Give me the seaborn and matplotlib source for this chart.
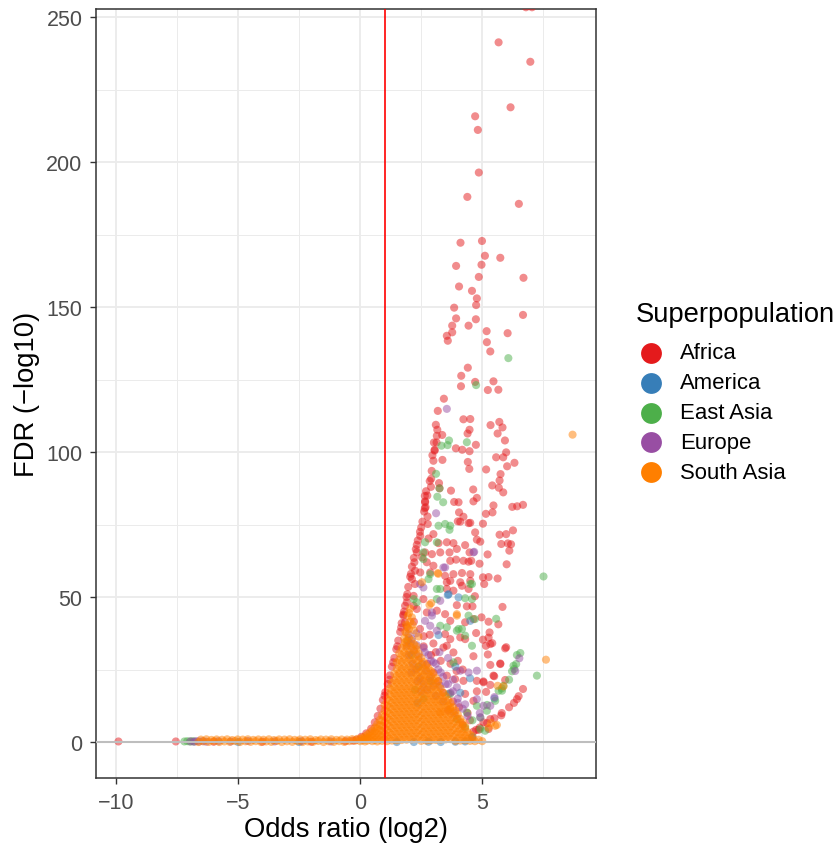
import matplotlib
matplotlib.use("Agg")
import matplotlib.pyplot as plt
from matplotlib.lines import Line2D
import pandas as pd
import seaborn as sns

# ---------------- data ----------------
populations = ["Africa", "America", "East Asia", "Europe", "South Asia"]
palette = ["#E41A1C", "#377EB8", "#4DAF4A", "#984EA3", "#FF7F00"]
x_ticks = [-10, -5, 0, 5]
y_ticks = [0, 50, 100, 150, 200, 250]
threshold_x = 1

africa = [
    (-9.9, 0.2), (-7.55, 0.2), (-6.0, 0.1), (-4.0, 0.1), (-2.0, 0.1), (-0.6, 0.3), (-0.3, 0.5),
    (-0.15, 0.8), (0.05, 1.8), (0.25, 3.0), (0.45, 4.6), (0.6, 6.8), (0.72, 9.0), (0.83, 11.5),
    (0.93, 14.5), (1.03, 17.2), (1.13, 20), (1.22, 23), (1.3, 26), (1.4, 29), (1.48, 32),
    (1.56, 35), (1.64, 38), (1.7, 41), (1.77, 44), (1.84, 47), (1.9, 50), (1.97, 53.5),
    (2.05, 57), (2.12, 60.5), (2.2, 63.5), (2.28, 66.5), (2.36, 69.5), (2.45, 72.5), (2.55, 76),
    (2.62, 79.5), (2.66, 83), (2.7, 86.5), (2.85, 90), (2.93, 93.5), (3.0, 97), (3.05, 100.5),
    (1.0, 16), (1.2, 21.5), (1.35, 27.5), (1.52, 33), (1.68, 39.5), (1.8, 45), (1.93, 51),
    (2.08, 58), (2.22, 62), (2.32, 68), (2.5, 74), (2.68, 81), (2.75, 85), (2.9, 88),
    (6.79, 253.4), (7.04, 253.4), (5.67, 241.3), (6.97, 234.6), (6.16, 218.9), (4.71, 215.8),
    (4.82, 211.1), (4.86, 196.4), (4.39, 188.0), (6.50, 185.6), (4.11, 172.2), (4.99, 172.8),
    (5.11, 167.7), (5.74, 167.0), (3.93, 164.2), (4.97, 164.6), (4.86, 160.4), (6.69, 160.1),
    (4.05, 157.1), (4.58, 155.6), (4.78, 153.0), (4.75, 150.7), (3.85, 149.8), (3.93, 146.1),
    (4.74, 145.8), (4.44, 143.6), (3.77, 143.6), (6.67, 147.3), (3.77, 141.3), (3.55, 140.1),
    (3.59, 138.4), (5.18, 141.7), (6.04, 141.0), (5.19, 137.9), (5.33, 134.7), (4.41, 129.1),
    (4.14, 126.3), (4.13, 122.7), (4.71, 124.2), (5.46, 124.4), (5.23, 121.4), (5.66, 121.5),
    (3.43, 118.4), (3.18, 114.2), (4.23, 111.3), (4.51, 111.4), (3.10, 109.4), (5.34, 109.3),
    (5.70, 110.4), (5.83, 108.5), (4.48, 107.7), (4.40, 106.4), (3.16, 107.7), (3.14, 105.6),
    (3.36, 105.9), (5.63, 106.4), (5.93, 104.0), (3.02, 103.3), (3.13, 103.3), (4.74, 102.5),
    (3.92, 101.3), (4.18, 100.8), (4.48, 100.3), (3.05, 100.8), (2.96, 98.9), (3.37, 97.3),
    (5.98, 99.9), (5.57, 98.2), (5.86, 98.2), (6.32, 96.3), (6.02, 95.1), (4.41, 96.6),
    (4.47, 94.2), (5.16, 94.0), (2.91, 90.8), (3.23, 89.3), (3.25, 87.5), (3.72, 86.7),
    (5.75, 92.4), (5.71, 90.2), (5.41, 88.5), (5.68, 87.7), (5.86, 86.1), (4.63, 87.1),
    (2.65, 84.9), (2.66, 82.7), (2.65, 80.6), (3.85, 82.8), (4.03, 82.7), (4.78, 84.2),
    (4.64, 83.0), (5.46, 81.6), (6.23, 81.1), (6.43, 81.3), (6.67, 81.8), (2.76, 77.8),
    (4.05, 79.2), (4.23, 77.7), (5.15, 78.7), (5.42, 79.2), (4.00, 76.1), (4.51, 75.6),
    (5.03, 75.3), (4.78, 69.8), (4.92, 69.1), (5.71, 71.5), (5.98, 71.7), (6.26, 73.0),
    (5.78, 68.3), (6.05, 68.5), (6.18, 68.2), (6.11, 66.0), (5.22, 64.7), (6.0, 61.3),
    (4.89, 61.5), (4.55, 62.5), (5.03, 56.8), (5.26, 56.9), (5.63, 56.4), (5.08, 54.5),
    (4.70, 50.3), (5.83, 46.6), (4.60, 46.8), (4.97, 43.0), (5.26, 41.5), (5.66, 40.6),
    (4.75, 37.6), (5.30, 37.8), (5.26, 36.0), (5.03, 35.3), (5.41, 34.1), (5.98, 32.7),
    (5.15, 33.2), (5.23, 30.2), (5.33, 26.6), (5.74, 27.1), (5.49, 22.7), (5.05, 20.9),
    (4.78, 21.1), (5.94, 21.4), (5.33, 19.7), (5.16, 17.3), (4.78, 17.5), (6.67, 18.3),
    (6.42, 14.8), (6.49, 15.8), (5.78, 9.2), (4.75, 4.2), (5.26, 4.5), (4.64, 3.6), (4.85, 4.2),
    (2.77, 75.2), (4.10, 76.0), (4.44, 75.5), (4.71, 72.3), (2.46, 71.1), (2.80, 70.2),
    (3.0, 71.7), (3.21, 68.6), (3.55, 68.9), (3.82, 68.6), (3.96, 66.6), (4.30, 67.9),
    (4.48, 65.4), (2.32, 65.4), (2.66, 65.4), (2.94, 64.8), (3.28, 65.4), (3.66, 65.4),
    (2.53, 63.7), (2.73, 62.0), (3.0, 60.8), (3.69, 62.5), (3.93, 62.9), (4.23, 62.5),
    (4.44, 62.2), (2.25, 59.1), (2.46, 58.5), (2.87, 58.5), (3.48, 57.3), (3.82, 57.9),
    (4.17, 58.3), (4.51, 57.9), (2.12, 56.2), (2.25, 54.5), (3.69, 55.6), (3.55, 55.1),
    (4.10, 55.1), (4.51, 55.6), (3.55, 52.8), (3.82, 52.2), (4.17, 53.9), (4.44, 52.8),
    (2.19, 50.4), (1.91, 48.2), (2.19, 47.0), (2.59, 49.3), (3.96, 47.2), (4.37, 46.8),
    (2.32, 45.9), (2.73, 44.7), (3.14, 45.3), (3.48, 44.1), (1.77, 43.6), (1.84, 41.3),
    (1.91, 39.6), (3.69, 41.8), (4.30, 41.3), (4.64, 42.4), (3.48, 37.2), (3.69, 35.5),
    (4.10, 36.1), (4.30, 35.5), (3.55, 33.2), (5.33, 33.8), (5.94, 32.3), (3.41, 32.6),
    (3.82, 30.9), (4.64, 29.6), (5.74, 26.9), (3.55, 22.9), (3.89, 21.7), (4.23, 21.1),
    (5.05, 20.6), (5.46, 22.9), (4.30, 16.6), (4.64, 14.2), (5.05, 6.8), (5.33, 7.9),
    (2.6, 33), (2.9, 30), (3.1, 31), (3.3, 28), (2.75, 27), (3.7, 27), (4.0, 28), (4.2, 25),
    (3.95, 24.5), (3.2, 21), (3.4, 17), (3.8, 14), (4.05, 12), (4.4, 10), (3.6, 11), (4.2, 6),
    (4.5, 7.5), (3.0, 24), (2.45, 39), (2.6, 36.5), (2.85, 37), (3.0, 34), (2.2, 41.5),
    (4.9, 5.0), (5.2, 6.5), (5.5, 8.2), (5.8, 10.0), (6.1, 12.0), (6.3, 13.5),
]

america = [
    (3.62, 51.0), (4.03, 49.9), (4.51, 41.8), (3.59, 50.7), (3.21, 36.9), (4.58, 1.6), (4.6, 1.8),
    (2.2, 0.0), (2.8, 0.1), (3.3, 0.0), (3.9, 0.1), (4.3, 0.2), (1.5, 0.0), (-5.0, 0.0),
    (-2.5, 0.0), (4.1, 17), (3.9, 26), (2.35, 13.5), (4.5, 22), (5.5, 15.0),
]

east_asia = [
    (-7.2, 0.2), (-7.08, 0.3), (-6.97, 0.15), (-6.88, 0.3), (-6.8, 0.2),
    (6.07, 132.4), (4.75, 123.1), (3.64, 104.0), (3.33, 102.2), (3.58, 102.4), (4.37, 103.4),
    (3.11, 92.5), (3.25, 87.5), (3.16, 84.6), (3.40, 82.7), (7.51, 57.1), (4.58, 54.5),
    (5.57, 42.5), (4.70, 42.4), (6.42, 30.0), (6.56, 30.7), (6.39, 26.9), (6.31, 25.2),
    (6.22, 24.4), (7.24, 22.9), (5.81, 17.7), (3.21, 74.6), (3.48, 75.2), (3.66, 73.2),
    (2.87, 57.9), (2.80, 56.2), (3.14, 52.8), (4.30, 49.6), (2.19, 49.3), (2.32, 48.2),
    (4.44, 43.6), (3.28, 40.1), (3.55, 39.6), (4.03, 39.0), (3.96, 38.4), (4.30, 36.7),
    (3.69, 74.6), (2.66, 68.9), (3.14, 68.9), (2.59, 65.4), (2.59, 63.1), (4.51, 54.5),
    (4.58, 49.3), (3.28, 52.8), (3.14, 49.3), (4.17, 39.0), (3.82, 27.5), (4.58, 33.2),
    (3.69, 16.6), (3.62, 16.6), (6.28, 26.3), (5.87, 19.4), (5.67, 17.7), (4.92, 4.5),
    (5.12, 3.9), (5.53, 14.2), (5.19, 10.8), (4.92, 8.5), (4.37, 10.2), (4.78, 12.5),
    (3.96, 7.9), (2.1, 30), (2.4, 26), (2.9, 21), (1.95, 35), (2.25, 18), (2.6, 15),
    (4.3, 5.0), (4.6, 7.5), (5.2, 12.8), (5.8, 18.5), (6.1, 21.5),
]

europe = [
    (-6.95, 0.25), (-6.8, 0.1), (-6.7, 0.35), (-6.6, 0.2), (-6.45, 0.3), (-6.3, 0.1),
    (-5.8, 0.3), (-5.3, 0.2), (-4.6, 0.35), (-3.5, 0.2), (-2.4, 0.3), (-1.2, 0.2),
    (3.55, 114.9), (3.11, 78.9), (4.67, 65.6), (6.52, 28.9), (4.64, 65.4), (3.41, 60.2),
    (3.28, 48.7), (2.94, 44.7), (3.48, 60.2), (2.46, 54.5), (2.59, 53.3), (2.94, 43.6),
    (2.66, 41.8), (2.87, 40.1), (3.14, 38.4), (1.98, 37.2), (2.12, 35.5), (1.91, 33.2),
    (2.32, 33.4), (4.10, 24.6), (4.44, 24.0), (4.78, 24.6), (3.28, 19.4), (3.96, 18.9),
    (4.78, 14.8), (5.05, 12.5), (5.33, 12.5), (4.92, 8.5), (2.0, 30), (2.15, 27), (2.3, 25),
    (2.45, 22), (2.6, 20), (2.2, 31.5), (2.4, 29.5), (2.55, 27), (2.7, 24.5), (2.85, 22),
    (3.0, 19.5), (2.1, 24), (2.35, 21), (2.5, 17.5), (2.75, 18), (3.1, 27), (3.3, 24),
    (3.5, 20), (3.1, 16), (3.4, 14), (2.65, 31), (2.9, 28), (3.25, 31), (3.6, 29), (2.05, 34),
    (3.8, 21.5), (3.7, 17), (4.0, 15), (4.3, 13), (3.85, 10), (2.3, 37.5),
    (2.6, 32.5), (2.8, 30.0), (3.0, 27.5), (3.2, 25.0), (3.4, 22.5), (3.6, 20.0), (3.8, 17.5),
    (4.0, 13.5), (4.2, 11.5), (4.4, 9.0), (4.9, 10.0), (5.5, 15.5), (6.35, 24.5),
]

south_asia_scatter = [
    (8.70, 106.0), (7.61, 28.4), (5.63, 19.4), (5.87, 19.2), (5.36, 6.6), (5.60, 5.9),
    (2.12, 43.0), (2.84, 47.3), (3.2, 58.0), (3.96, 43.6), (5.53, 5.6), (5.26, 5.0),
    (3.18, 58.3), (2.53, 55.1), (2.91, 47.9), (3.96, 44.1), (2.39, 36.4), (1.84, 34.4),
    (3.28, 10.2), (3.69, 11.4), (2.05, 41.5), (1.95, 40.0), (2.0, 44.5), (2.2, 38.5),
    (1.85, 38.0), (1.88, 40.5), (1.95, 43.5), (2.05, 46.0), (2.15, 40.5), (2.3, 33.0),
]

south_asia_band_x = [
    -6.62, -6.52, -6.41, -6.30, -6.20, -6.09, -5.98, -5.88, -5.77, -5.66,
    -5.56, -5.45, -5.34, -5.24, -5.13, -5.02, -4.92, -4.81, -4.70, -4.60,
    -4.49, -4.38, -4.28, -4.17, -4.06, -3.96, -3.85, -3.74, -3.64, -3.53,
    -3.42, -3.32, -3.21, -3.10, -3.00, -2.89, -2.78, -2.68, -2.57, -2.46,
    -2.36, -2.25, -2.14, -2.04, -1.93, -1.82, -1.72, -1.61, -1.50, -1.40,
    -1.29, -1.18, -1.08, -0.97, -0.86, -0.76, -0.65, -0.54, -0.44, -0.33,
    -0.22, -0.12,
]
south_asia_band_y = [
    0.00, 0.85, 0.25, 0.95, 0.05, 0.75, 0.30, 0.90, 0.00, 0.80,
    0.20, 0.95, 0.05, 0.70, 0.35, 0.90, 0.00, 0.85, 0.25, 0.95,
    0.05, 0.75, 0.30, 0.90, 0.00, 0.80, 0.20, 0.95, 0.05, 0.70,
    0.35, 0.90, 0.00, 0.85, 0.25, 0.95, 0.05, 0.75, 0.30, 0.90,
    0.00, 0.80, 0.20, 0.95, 0.05, 0.70, 0.35, 0.90, 0.00, 0.85,
    0.25, 0.95, 0.05, 0.75, 0.30, 0.90, 0.05, 0.85, 0.30, 1.00,
    0.40, 1.10,
]

# dense South Asia cloud, column by column: (odds ratio, [FDR values])
south_asia_core = [
    (0.00, [0.3, 1.1]), (0.10, [0.6, 1.5]), (0.20, [0.2, 1.1, 2.0]),
    (0.30, [0.5, 1.5, 2.6]), (0.40, [0.9, 2.1, 3.3]), (0.50, [0.3, 1.5, 2.8, 4.0]),
    (0.60, [0.7, 2.2, 3.7, 5.0]), (0.70, [0.2, 1.6, 3.1, 4.7, 6.2]),
    (0.80, [0.9, 2.5, 4.1, 5.8, 7.6]), (0.90, [0.4, 2.0, 3.8, 5.6, 7.4, 9.2]),
    (1.00, [1.0, 2.8, 4.8, 6.8, 8.8, 10.8, 12.8]),
    (1.10, [0.3, 2.2, 4.2, 6.3, 8.4, 10.5, 12.6, 14.8]),
    (1.20, [1.2, 3.3, 5.5, 7.7, 9.9, 12.1, 14.3, 16.5, 18.5]),
    (1.30, [0.5, 2.6, 4.8, 7.0, 9.2, 11.4, 13.6, 15.8, 18.0, 20.5]),
    (1.40, [1.4, 3.6, 5.8, 8.0, 10.2, 12.4, 14.6, 16.8, 19.0, 21.3, 23.6]),
    (1.50, [0.6, 2.8, 5.0, 7.2, 9.4, 11.6, 13.8, 16.0, 18.2, 20.5, 22.8, 25.2, 27.5]),
    (1.60, [1.5, 3.7, 5.9, 8.1, 10.3, 12.5, 14.7, 16.9, 19.1, 21.4, 23.7, 26.0, 28.4, 30.6]),
    (1.70, [0.7, 2.9, 5.1, 7.3, 9.5, 11.7, 13.9, 16.1, 18.3, 20.6, 22.9, 25.2, 27.6, 30.0,
            32.5]),
    (1.80, [1.6, 3.8, 6.0, 8.2, 10.4, 12.6, 14.8, 17.0, 19.2, 21.5, 23.8, 26.1, 28.5, 30.9,
            33.3, 35.8]),
    (1.90, [0.8, 3.0, 5.2, 7.4, 9.6, 11.8, 14.0, 16.2, 18.4, 20.7, 23.0, 25.3, 27.7, 30.1,
            32.5, 35.0, 37.5]),
    (2.00, [1.7, 3.9, 6.1, 8.3, 10.5, 12.7, 14.9, 17.1, 19.3, 21.6, 23.9, 26.2, 28.6, 31.0,
            33.4, 36.0, 39.0]),
    (2.10, [0.9, 3.1, 5.3, 7.5, 9.7, 11.9, 14.1, 16.3, 18.5, 20.8, 23.1, 25.4, 27.8, 30.2,
            32.6, 35.0]),
    (2.20, [1.8, 4.0, 6.2, 8.4, 10.6, 12.8, 15.0, 17.2, 19.4, 21.7, 24.0, 26.3, 28.7, 31.5,
            33.8]),
    (2.30, [1.0, 3.2, 5.4, 7.6, 9.8, 12.0, 14.2, 16.4, 18.6, 20.9, 23.2, 25.5, 28.0, 30.3,
            32.0]),
    (2.40, [1.9, 4.1, 6.3, 8.5, 10.7, 12.9, 15.1, 17.3, 19.5, 21.8, 24.1, 26.0, 28.3, 30.5]),
    (2.50, [0.4, 2.6, 4.8, 7.0, 9.2, 11.4, 13.6, 15.8, 18.0, 20.3, 22.6, 24.5, 26.8, 29.0]),
    (2.60, [1.3, 3.5, 5.7, 7.9, 10.1, 12.3, 14.5, 16.7, 18.9, 21.2, 23.0, 25.4, 27.6]),
    (2.70, [0.5, 2.7, 4.9, 7.1, 9.3, 11.5, 13.7, 15.9, 18.1, 20.4, 22.6, 24.8, 26.5]),
    (2.80, [1.4, 3.6, 5.8, 8.0, 10.2, 12.4, 14.6, 16.8, 19.0, 21.2, 23.4, 25.5]),
    (2.90, [0.6, 2.8, 5.0, 7.2, 9.4, 11.6, 13.8, 16.0, 18.2, 20.4, 22.6, 24.5]),
    (3.00, [1.5, 3.7, 5.9, 8.1, 10.3, 12.5, 14.7, 16.9, 19.1, 21.3, 23.5]),
    (3.10, [0.7, 2.9, 5.1, 7.3, 9.5, 11.7, 13.9, 15.8, 18.1, 20.3, 22.0]),
    (3.20, [1.6, 3.8, 6.0, 8.2, 10.4, 12.6, 14.6, 16.8, 19.0, 21.0]),
    (3.30, [0.8, 3.0, 5.2, 7.4, 9.6, 11.8, 14.0, 16.2, 18.5]),
    (3.40, [1.7, 3.9, 6.1, 8.3, 10.5, 12.7, 14.9, 17.0]),
    (3.50, [0.9, 3.1, 5.3, 7.5, 9.7, 11.9, 14.1, 15.8]),
    (3.60, [1.8, 4.0, 6.2, 8.4, 10.5, 12.6, 14.5]),
    (3.70, [1.0, 3.2, 5.4, 7.6, 9.8, 12.0, 13.5]),
    (3.80, [1.9, 4.1, 6.3, 8.4, 10.5, 12.0]),
    (3.90, [0.4, 2.6, 4.8, 7.0, 9.2, 10.8]),
    (4.00, [1.3, 3.5, 5.8, 8.0, 9.5]),
    (4.10, [0.5, 2.7, 4.6, 6.8, 8.0]),
    (4.20, [1.4, 3.4, 5.6, 6.8]),
    (4.30, [0.6, 2.3, 4.5, 5.5]),
    (4.40, [1.2, 3.4]),
    (4.50, [0.4, 2.6]),
    (4.60, [1.0, 2.0]),
    (4.70, [0.3]),
    (4.85, [0.8]),
    (5.00, [0.3]),
]

# ---------------- build table ----------------
rows = []
for pop, pts in zip(populations[:4], [africa, america, east_asia, europe]):
    rows += [(x, y, pop) for x, y in pts]
rows += [(x, y, "South Asia") for x, y in zip(south_asia_band_x, south_asia_band_y)]
rows += [(x, y, "South Asia") for x, ys in south_asia_core for y in ys]
rows += [(x, y, "South Asia") for x, y in south_asia_scatter]
df = pd.DataFrame(rows, columns=["log2_or", "fdr", "Superpopulation"])

# ---------------- figure ----------------
plt.rcParams["font.family"] = ["Liberation Sans", "DejaVu Sans"]
W, H = 838, 845
fig = plt.figure(figsize=(W / 100, H / 100), dpi=100)
ax = fig.add_axes([96 / W, (H - 779) / H, 500 / W, 769 / H])

sns.scatterplot(
    data=df, x="log2_or", y="fdr", hue="Superpopulation", hue_order=populations,
    palette=palette, s=34, alpha=0.5, linewidth=0, edgecolor="none",
    legend=False, ax=ax, zorder=3,
)

ax.axhline(0, color="#BEBEBE", lw=1.5, zorder=4)
ax.axvline(threshold_x, color="#FF0000", lw=1.2, zorder=5)

ax.set_xlim(-10.82, 9.66)
ax.set_ylim(-12.4, 252.8)
ax.set_xticks(x_ticks)
ax.set_xticklabels([f"{t}".replace("-", "\u2212") for t in x_ticks])
ax.set_yticks(y_ticks)
ax.set_yticklabels([str(t) for t in y_ticks])
ax.set_xticks([-7.5, -2.5, 2.5, 7.5], minor=True)
ax.set_yticks([25, 75, 125, 175, 225], minor=True)
ax.set_axisbelow(True)
ax.grid(which="major", color="#EBEBEB", lw=1.3)
ax.grid(which="minor", color="#EBEBEB", lw=0.7)
ax.tick_params(which="minor", length=0)
ax.tick_params(which="major", length=4.3, width=1.0, color="#333333",
               labelsize=15.5, labelcolor="#4D4D4D", pad=5.5)
for sp in ax.spines.values():
    sp.set_color("#333333")
    sp.set_linewidth(1.1)
ax.set_facecolor("white")

ax.set_xlabel("Odds ratio (log2)", fontsize=19.7, color="black")
ax.xaxis.set_label_coords(0.5, -0.049)
ax.set_ylabel("FDR (\u2212log10)", fontsize=19.7, color="black")
ax.yaxis.set_label_coords(-0.113, 0.5)

# legend
fig.text(636 / W, 1 - 315 / H, "Superpopulation", fontsize=19.7, ha="left", va="center")
for i, (pop, col) in enumerate(zip(populations, palette)):
    yy = 354 + i * 29.8
    fig.add_artist(Line2D([651 / W], [1 - yy / H], marker="o", markersize=15, color=col,
                          markeredgewidth=0, linestyle="none", transform=fig.transFigure))
    fig.text(680 / W, 1 - yy / H, pop, fontsize=15.9, ha="left", va="center")

fig.savefig("out.png", dpi=100, facecolor="white")
